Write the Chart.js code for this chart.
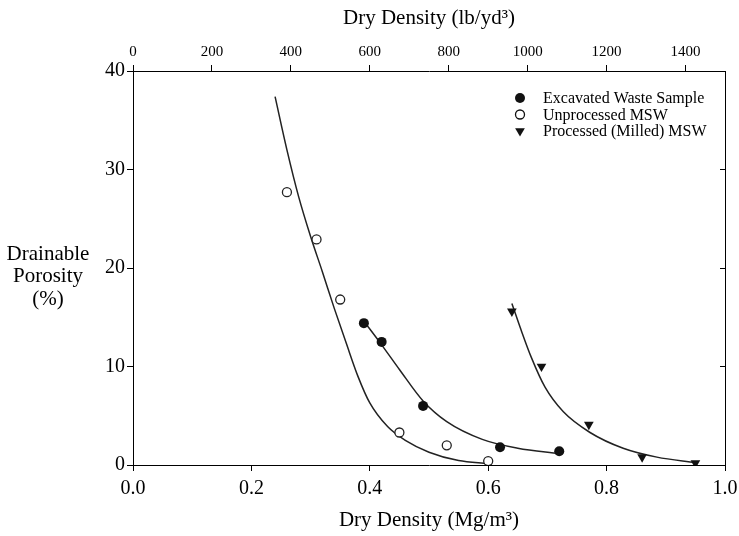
<!DOCTYPE html>
<html>
<head>
<meta charset="utf-8">
<script src="https://cdn.jsdelivr.net/npm/chart.js@4.4.1/dist/chart.umd.min.js"></script>
<style>
  html, body { margin: 0; padding: 0; background: #fff; }
</style>
</head>
<body>
<canvas id="porosityChart" width="739" height="536"></canvas>
<script>
// measured points
const excavatedX = [0.39, 0.42, 0.49, 0.62, 0.72];
const excavatedY = [14.4, 12.5, 6.0, 1.8, 1.4];

const unprocessedX = [0.26, 0.31, 0.35, 0.45, 0.53, 0.60];
const unprocessedY = [27.7, 22.9, 16.8, 3.3, 2.0, 0.4];

const processedX = [0.64, 0.69, 0.77, 0.86, 0.95];
const processedY = [15.6, 10.0, 4.1, 0.8, 0.2];

// fitted curves
const unprocessedFitX = [0.24, 0.26, 0.28, 0.30, 0.32, 0.34, 0.36, 0.38, 0.40, 0.43, 0.46, 0.50, 0.55, 0.60];
const unprocessedFitY = [37.4, 32.0, 27.2, 23.2, 19.6, 15.9, 12.4, 9.0, 6.3, 3.9, 2.5, 1.3, 0.45, 0.15];

const excavatedFitX = [0.39, 0.42, 0.45, 0.49, 0.53, 0.59, 0.65, 0.72];
const excavatedFitY = [14.6, 12.2, 9.7, 6.5, 4.4, 2.6, 1.7, 1.15];

const processedFitX = [0.64, 0.655, 0.673, 0.696, 0.727, 0.772, 0.828, 0.885, 0.95];
const processedFitY = [16.4, 13.8, 10.9, 7.9, 5.4, 3.3, 1.7, 0.8, 0.25];

const bottomTicks = [0.0, 0.2, 0.4, 0.6, 0.8, 1.0];
const topTicks = [0, 200, 400, 600, 800, 1000, 1200, 1400];
const leftTicks = [0, 10, 20, 30, 40];
const rightTicks = [10, 20, 30];

const legendLabels = ['Excavated Waste Sample', 'Unprocessed MSW', 'Processed (Milled) MSW'];
const yTitleLines = ['Drainable', 'Porosity', '(%)'];

const serif = "'Liberation Serif', 'DejaVu Serif', serif";

function toPoints(xs, ys) {
    return xs.map((x, i) => ({ x: x, y: ys[i] }));
}

function drawMarker(ctx, style, x, y) {
    ctx.save();
    ctx.lineWidth = 1.3;
    ctx.strokeStyle = '#111';
    ctx.fillStyle = '#111';
    ctx.beginPath();
    if (style === 'open') {
        ctx.fillStyle = '#fff';
        ctx.arc(x, y, 4.5, 0, Math.PI * 2);
        ctx.fill();
        ctx.stroke();
    } else if (style === 'filled') {
        ctx.arc(x, y, 5, 0, Math.PI * 2);
        ctx.fill();
    } else {
        const r = 5.6;
        ctx.moveTo(x, y + r);
        ctx.lineTo(x - r * 0.866, y - r / 2);
        ctx.lineTo(x + r * 0.866, y - r / 2);
        ctx.closePath();
        ctx.fill();
    }
    ctx.restore();
}

const insideLegend = {
    id: 'insideLegend',
    afterDraw(chart) {
        const ctx = chart.ctx;
        const area = chart.chartArea;
        const styles = ['filled', 'open', 'triangle'];
        ctx.save();
        ctx.font = '16px ' + serif;
        ctx.fillStyle = '#000';
        ctx.textBaseline = 'middle';
        legendLabels.forEach((label, i) => {
            const y = area.top + 27 + i * 16.5;
            drawMarker(ctx, styles[i], area.right - 205, y);
            ctx.fillText(label, area.right - 182, y + 1);
        });
        ctx.restore();
    }
};

const yTitle = {
    id: 'yTitle',
    afterDraw(chart) {
        const ctx = chart.ctx;
        const area = chart.chartArea;
        ctx.save();
        ctx.font = '21px ' + serif;
        ctx.fillStyle = '#000';
        ctx.textAlign = 'center';
        ctx.textBaseline = 'middle';
        yTitleLines.forEach((line, i) => {
            ctx.fillText(line, 48, area.top + 183 + i * 22.5);
        });
        ctx.restore();
    }
};

function noSidePadding(scale) {
    scale.paddingLeft = 0;
    scale.paddingRight = 0;
}

function renderChart() {
    const ctx = document.getElementById('porosityChart');

    new Chart(ctx, {
        type: 'scatter',
        data: {
            datasets: [
                {
                    label: legendLabels[0],
                    data: toPoints(excavatedX, excavatedY),
                    pointStyle: 'circle',
                    pointRadius: 5,
                    backgroundColor: '#111',
                    borderColor: '#111',
                    borderWidth: 0,
                    order: 0
                },
                {
                    label: legendLabels[1],
                    data: toPoints(unprocessedX, unprocessedY),
                    pointStyle: 'circle',
                    pointRadius: 4.5,
                    backgroundColor: '#fff',
                    borderColor: '#222',
                    borderWidth: 1.3,
                    order: 0
                },
                {
                    label: legendLabels[2],
                    data: toPoints(processedX, processedY),
                    pointStyle: 'triangle',
                    pointRotation: 180,
                    pointRadius: 5.6,
                    backgroundColor: '#111',
                    borderColor: '#111',
                    borderWidth: 0,
                    order: 0
                },
                {
                    label: 'fit unprocessed',
                    data: toPoints(unprocessedFitX, unprocessedFitY),
                    showLine: true,
                    pointRadius: 0,
                    borderColor: '#222',
                    borderWidth: 1.5,
                    cubicInterpolationMode: 'monotone',
                    order: 1
                },
                {
                    label: 'fit excavated',
                    data: toPoints(excavatedFitX, excavatedFitY),
                    showLine: true,
                    pointRadius: 0,
                    borderColor: '#222',
                    borderWidth: 1.5,
                    cubicInterpolationMode: 'monotone',
                    order: 1
                },
                {
                    label: 'fit processed',
                    data: toPoints(processedFitX, processedFitY),
                    showLine: true,
                    pointRadius: 0,
                    borderColor: '#222',
                    borderWidth: 1.5,
                    cubicInterpolationMode: 'monotone',
                    order: 1
                }
            ]
        },
        options: {
            responsive: false,
            animation: false,
            layout: { padding: 0 },
            plugins: {
                legend: { display: false },
                tooltip: { enabled: false }
            },
            scales: {
                x: {
                    type: 'linear',
                    position: 'bottom',
                    min: 0,
                    max: 1,
                    afterFit: (scale) => { scale.height = 71; noSidePadding(scale); },
                    afterBuildTicks: (scale) => { scale.ticks = bottomTicks.map(v => ({ value: v })); },
                    grid: { drawOnChartArea: false, color: '#000', tickLength: 6 },
                    border: { color: '#000', width: 1 },
                    ticks: {
                        color: '#000',
                        padding: 6,
                        font: { family: serif, size: 20 },
                        callback: (v) => v.toFixed(1)
                    },
                    title: {
                        display: true,
                        text: 'Dry Density (Mg/m³)',
                        color: '#000',
                        font: { family: serif, size: 21 },
                        padding: { top: 0, bottom: 3 }
                    }
                },
                x2: {
                    type: 'linear',
                    position: 'top',
                    min: 0,
                    max: 1500,
                    afterFit: (scale) => { scale.height = 71; noSidePadding(scale); },
                    afterBuildTicks: (scale) => { scale.ticks = topTicks.map(v => ({ value: v })); },
                    grid: { drawOnChartArea: false, color: '#000', tickLength: 6 },
                    border: { color: '#000', width: 1 },
                    ticks: {
                        color: '#000',
                        padding: 4,
                        font: { family: serif, size: 15 },
                        callback: (v) => String(v)
                    },
                    title: {
                        display: true,
                        text: 'Dry Density (lb/yd³)',
                        color: '#000',
                        font: { family: serif, size: 21 },
                        padding: { top: 6, bottom: 0 }
                    }
                },
                y: {
                    type: 'linear',
                    position: 'left',
                    min: 0,
                    max: 40,
                    afterFit: (scale) => { scale.width = 133; },
                    afterBuildTicks: (scale) => { scale.ticks = leftTicks.map(v => ({ value: v })); },
                    grid: { drawOnChartArea: false, color: '#000', tickLength: 6 },
                    border: { color: '#000', width: 1 },
                    ticks: {
                        color: '#000',
                        padding: 2,
                        font: { family: serif, size: 20 }
                    }
                },
                y2: {
                    type: 'linear',
                    position: 'right',
                    min: 0,
                    max: 40,
                    afterFit: (scale) => { scale.width = 14; },
                    afterBuildTicks: (scale) => { scale.ticks = rightTicks.map(v => ({ value: v })); },
                    grid: { drawOnChartArea: false, color: '#000', tickLength: -5 },
                    border: { color: '#000', width: 1 },
                    ticks: { display: false }
                }
            }
        },
        plugins: [insideLegend, yTitle]
    });
}

renderChart();
</script>
</body>
</html>
